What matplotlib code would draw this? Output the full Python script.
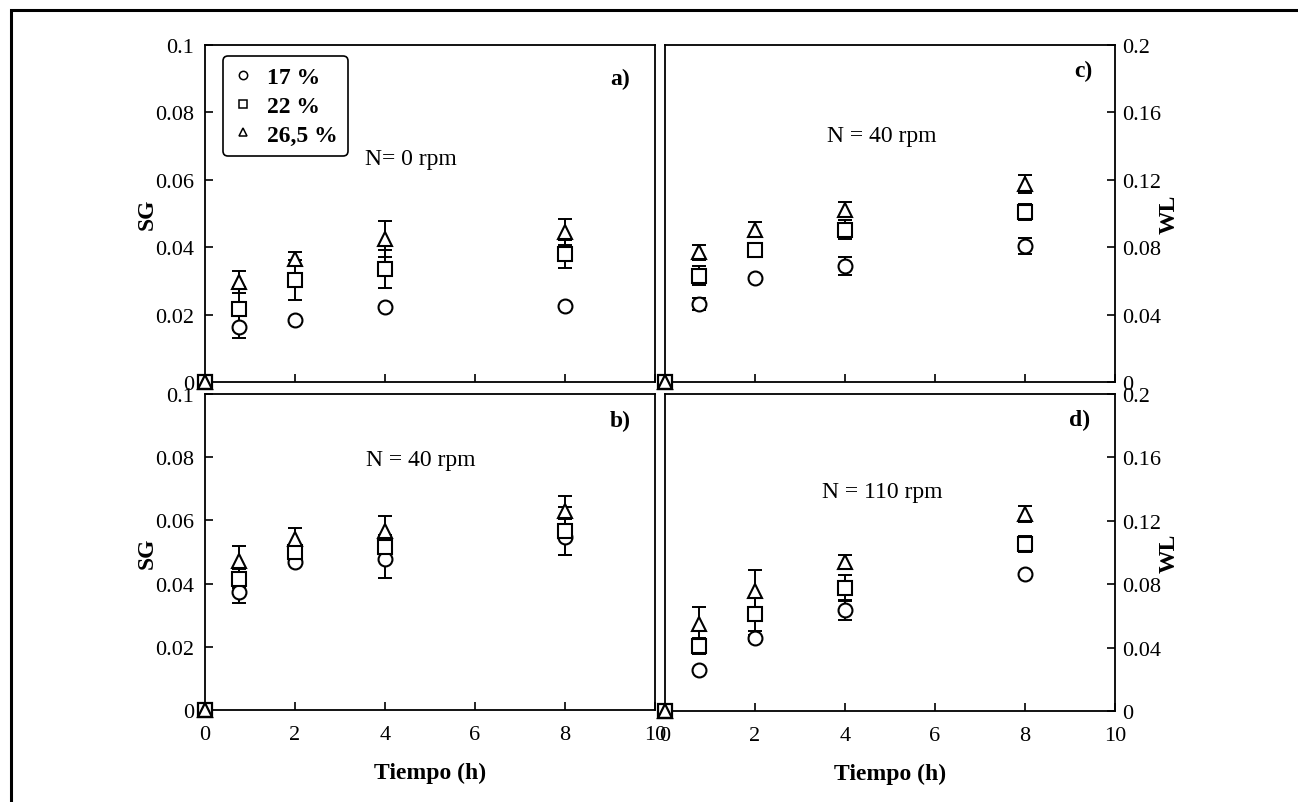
import matplotlib
matplotlib.use("Agg")
import matplotlib.pyplot as plt
from matplotlib.lines import Line2D
from matplotlib.patches import Rectangle

plt.rcParams['font.family'] = ['Liberation Serif', 'DejaVu Serif']

# ---------------- data ----------------
times = [0.75, 2, 4, 8]
series_labels = ['17 %', '22 %', '26,5 %']
markers = ['o', 's', '^']
origin_t = 0
origin_v = 0

# panel a) SG, N = 0 rpm
a_mean = [[0.0163, 0.0184, 0.0223, 0.0226],
          [0.0217, 0.0303, 0.0335, 0.0380],
          [0.0297, 0.0365, 0.0424, 0.0445]]
a_err = [[0.0033, 0.0, 0.0, 0.0],
         [0.0064, 0.0060, 0.0056, 0.0042],
         [0.0033, 0.0021, 0.0054, 0.0039]]

# panel b) SG, N = 40 rpm
b_mean = [[0.0372, 0.0469, 0.0478, 0.0547],
          [0.0415, 0.0499, 0.0515, 0.0567],
          [0.0473, 0.0541, 0.0567, 0.0630]]
b_err = [[0.0034, 0.0, 0.0060, 0.0057],
         [0.0030, 0.0020, 0.0040, 0.0075],
         [0.0047, 0.0035, 0.0048, 0.0047]]

# panel c) WL, N = 40 rpm
c_mean = [[0.0463, 0.0617, 0.0688, 0.0809],
          [0.0630, 0.0785, 0.0904, 0.1009],
          [0.0770, 0.0904, 0.1023, 0.1175]]
c_err = [[0.0037, 0.0, 0.0055, 0.0048],
         [0.0057, 0.0, 0.0058, 0.0048],
         [0.0045, 0.0046, 0.0044, 0.0052]]

# panel d) WL, N = 110 rpm
d_mean = [[0.0260, 0.0460, 0.0639, 0.0864],
          [0.0412, 0.0612, 0.0776, 0.1054],
          [0.0549, 0.0759, 0.0942, 0.1243]]
d_err = [[0.0, 0.0020, 0.0063, 0.0],
         [0.0050, 0.0105, 0.0080, 0.0052],
         [0.0105, 0.0131, 0.0044, 0.0052]]

x_ticks = [0, 2, 4, 6, 8, 10]
sg_ticks = [0, 0.02, 0.04, 0.06, 0.08, 0.1]
wl_ticks = [0, 0.04, 0.08, 0.12, 0.16, 0.2]

# ---------------- figure ----------------
W, H = 1298, 803
fig = plt.figure(figsize=(W / 100, H / 100), dpi=100)

def pix_axes(l, t, r, b):
    return fig.add_axes([l / W, 1 - b / H, (r - l) / W, (b - t) / H])

ax_a = pix_axes(205, 46, 655, 383)
ax_c = pix_axes(665, 46, 1115, 383)
ax_b = pix_axes(205, 395, 655, 711)
ax_d = pix_axes(665, 395, 1115, 712)

FS = 16
FS2 = 17
LW = 1.3
MS = 10

def draw(ax, mean, err, yticks, right, show_xlabels, note, note_xy, tag, tag_xy, ylabel):
    for i in range(3):
        ax.errorbar(times, mean[i], yerr=err[i], fmt='none', ecolor='black',
                    elinewidth=1.4, capsize=5.2, capthick=1.4, zorder=2)
    for i in range(3):
        ax.plot(times, mean[i], ls='none', marker=markers[i], ms=MS,
                mfc='white', mec='black', mew=1.5, zorder=3)
    for i in (1, 2):
        ax.plot([origin_t], [origin_v], ls='none', marker=markers[i], ms=MS,
                mfc='white' if i == 1 else 'none', mec='black', mew=1.6,
                zorder=5, clip_on=False)
    ax.set_xlim(0, 10)
    ax.set_ylim(yticks[0], yticks[-1])
    ax.set_xticks(x_ticks)
    ax.set_yticks(yticks)
    ax.set_yticklabels(['{:g}'.format(v) for v in yticks])
    ax.set_xticklabels([str(v) for v in x_ticks] if show_xlabels else [])
    for s in ax.spines.values():
        s.set_linewidth(LW)
    ax.tick_params(axis='both', direction='in', length=6, width=1.2,
                   labelsize=FS, colors='black')
    ax.tick_params(axis='x', top=False, pad=11)
    if right:
        ax.yaxis.tick_right()
        ax.yaxis.set_label_position('right')
        ax.tick_params(axis='y', left=False, right=True, pad=5)
        ax.set_ylabel(ylabel, fontsize=FS2, fontweight='bold')
        ax.yaxis.set_label_coords(1.098, 0.5)
    else:
        ax.tick_params(axis='y', left=True, right=False, pad=8)
        ax.set_ylabel(ylabel, fontsize=FS2, fontweight='bold')
        ax.yaxis.set_label_coords(-0.105, 0.5)
    if show_xlabels:
        ax.set_xlabel('Tiempo (h)', fontsize=FS2, fontweight='bold')
        ax.xaxis.set_label_coords(0.5, -0.165)
    ax.text(note_xy[0], note_xy[1], note, transform=ax.transAxes,
            ha='center', va='center', fontsize=FS2)
    ax.text(tag_xy[0], tag_xy[1], tag, transform=ax.transAxes,
            ha='center', va='center', fontsize=FS2, fontweight='bold')

draw(ax_a, a_mean, a_err, sg_ticks, False, False, 'N= 0 rpm', (0.458, 0.662),
     'a)', (0.922, 0.90), 'SG')
draw(ax_c, c_mean, c_err, wl_ticks, True, False, 'N = 40 rpm', (0.482, 0.730),
     'c)', (0.929, 0.925), 'WL')
draw(ax_b, b_mean, b_err, sg_ticks, False, True, 'N = 40 rpm', (0.48, 0.794),
     'b)', (0.922, 0.915), 'SG')
draw(ax_d, d_mean, d_err, wl_ticks, True, True, 'N = 110 rpm', (0.482, 0.691),
     'd)', (0.922, 0.921), 'WL')

handles = [Line2D([], [], ls='none', marker=m, ms=6, mfc='white', mec='black', mew=1.1)
           for m in markers]
leg = ax_a.legend(handles, series_labels, loc='upper left', bbox_to_anchor=(0.04, 0.967),
                  borderaxespad=0, fancybox=True, framealpha=1, edgecolor='black',
                  prop={'weight': 'bold', 'size': FS2}, handlelength=0.8,
                  handletextpad=0.6, labelspacing=0.3, borderpad=0.45)
leg.get_frame().set_linewidth(1.2)
leg.set_zorder(10)

# outer frame
fig.add_artist(Rectangle((11 / W, -0.05), 1.05, (1 - 11 / H) + 0.05,
                         transform=fig.transFigure, fill=False, lw=2.2,
                         edgecolor='black'))

fig.savefig('out.png', dpi=100)
